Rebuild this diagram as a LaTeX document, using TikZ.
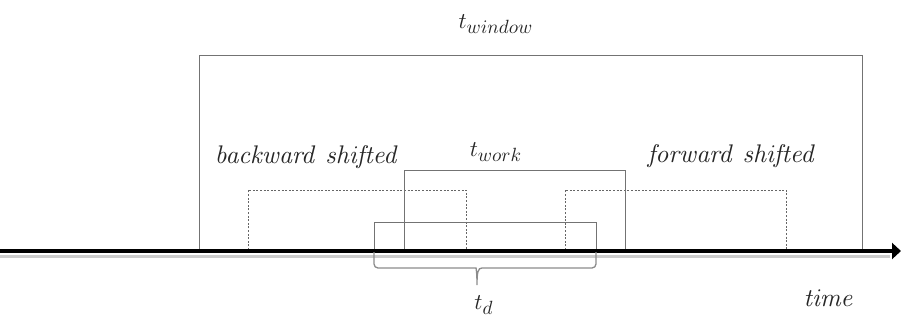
\documentclass[tikz,border=0pt]{standalone}
\usepackage{graphicx}
\usetikzlibrary{arrows.meta}
\newcommand{\lblmath}[1]{\scalebox{2.25}{$#1$}}
\newcommand{\lblword}[1]{\scalebox{2.55}{$\mathit{#1}$}}
\newcommand{\lblsub}[1]{\scalebox{0.85}{$\textstyle #1$}}
\begin{document}
\begin{tikzpicture}[x=1pt,y=-1pt,
  solidbox/.style={draw=black!55,line width=0.9pt},
  dashbox/.style={draw=black!60,dashed,dash pattern=on 2pt off 1.6pt,line width=0.8pt},
  lbl/.style={inner sep=0pt,text=black!85},
  bracestyle/.style={draw=black!45,line width=1.3pt},
  axisline/.style={line width=4pt,-{Triangle[length=9pt,width=16pt]}}]
\useasboundingbox (0,0) rectangle (901,325);
% boxes
\draw[solidbox] (199,250) -- (199,55) -- (862,55) -- (862,250);
\draw[dashbox] (248,250) -- (248,190) -- (466,190) -- (466,250);
\draw[dashbox] (565,250) -- (565,190) -- (786,190) -- (786,250);
\draw[solidbox] (404,250) -- (404,170) -- (625,170) -- (625,250);
\draw[solidbox] (374,250) -- (374,222) -- (596,222) -- (596,250);
% axis
\coordinate (a0) at (0,251);
\coordinate (a1) at (901,251);
\draw[black!20,line width=3pt] (0,256) -- (890,256);
\draw[axisline] (a0) -- (a1);
% brace
\coordinate (b0) at (374,252);
\coordinate (b1) at (596,252);
\coordinate (btip) at (477,285);
\draw[bracestyle] (b0) [rounded corners=4pt] -- (374,268) -- (472,268) [sharp corners]
  .. controls (476,268) and (477,272) .. (btip)
  .. controls (477,272) and (478,268) .. (482,268) [rounded corners=4pt] -- (596,268) -- (b1);
% labels
\node[lbl] (tw) at (496,24) {\lblmath{t_{\lblsub{window}}}};
\node[lbl] (twk) at (496,152) {\lblmath{t_{\lblsub{work}}}};
\node[lbl] (bs) at (307,157) {\lblword{backward\ shifted}};
\node[lbl] (fs) at (732,156) {\lblword{forward\ shifted}};
\node[lbl] (td) at (484,305) {\lblmath{t_{\lblsub{d}}}};
\node[lbl] (tm) at (829,298) {\lblword{time}};
\end{tikzpicture}
\end{document}
